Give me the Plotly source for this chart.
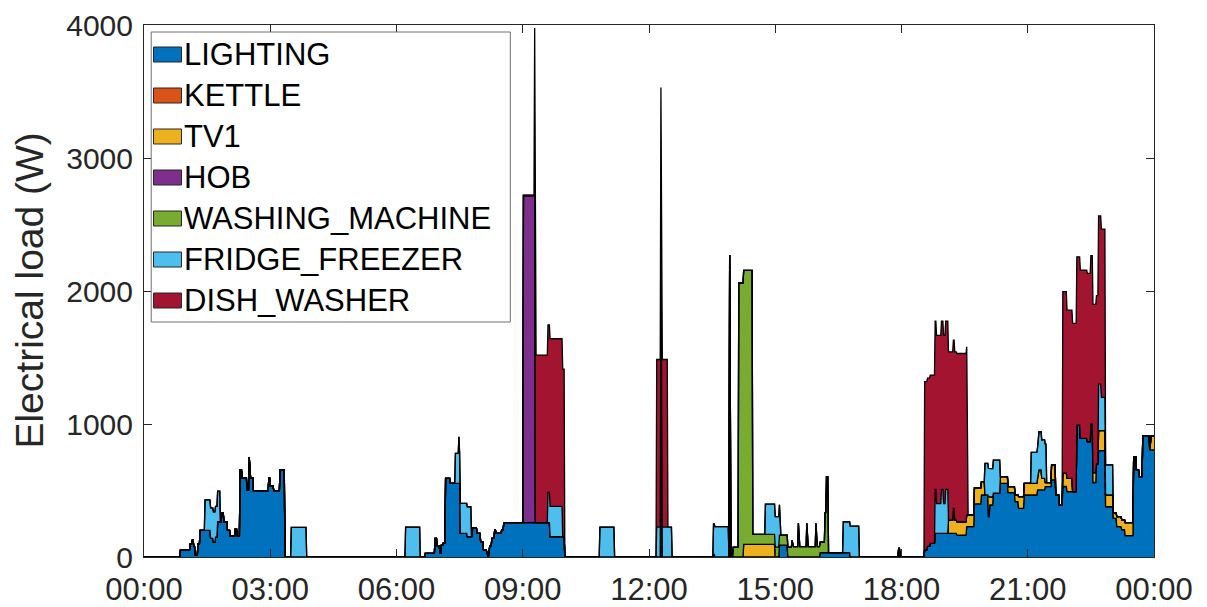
import plotly.graph_objects as go

MINUTES_PER_DAY = 1440

# Appliances in stacking order (bottom to top) and their fill colours
appliances = ["LIGHTING", "KETTLE", "TV1", "HOB", "WASHING_MACHINE",
              "FRIDGE_FREEZER", "DISH_WASHER"]
colors = ["#0072BD", "#D95319", "#EDB120", "#7E2F8E", "#77AC30",
          "#4DBEEE", "#A2142F"]

# Load change points as (minute of day, watts); each level holds until the next change
lighting_steps = [
    (0, 0), (52, 53), (66, 100), (69, 128), (71, 80), (73, 15), (77, 100), (80, 200),
    (95, 140), (99, 110), (102, 150), (105, 265), (111, 330), (114, 265), (119, 200),
    (123, 158), (130, 210), (133, 158), (137, 654), (140, 596), (147, 503), (150, 752),
    (151, 596), (156, 499), (178, 596), (180, 535), (185, 499), (194, 654), (201, 0),
    (401, 28), (415, 140), (418, 85), (422, 28), (424, 90), (427, 107), (430, 591),
    (437, 554), (451, 178), (461, 153), (468, 216), (475, 178), (480, 115), (484, 53),
    (489, 25), (491, 0), (492, 85), (496, 140), (500, 203), (502, 178), (510, 203),
    (513, 258), (579, 153), (600, 0),
    (812, 20), (814, 0), (906, 90), (918, 0), (964, 33), (1007, 0), (1076, 65), (1078, 0),
    (1113, 53), (1117, 80), (1121, 103), (1128, 178), (1159, 165), (1173, 228),
    (1184, 400), (1194, 466), (1204, 303), (1206, 391), (1211, 481), (1221, 554),
    (1232, 484), (1242, 416), (1247, 366), (1255, 466), (1274, 504), (1285, 529),
    (1294, 579), (1300, 466), (1305, 391), (1310, 530), (1316, 491), (1330, 992),
    (1335, 892), (1345, 867), (1350, 1000), (1353, 560), (1358, 700), (1361, 800),
    (1371, 378), (1382, 291), (1387, 228), (1394, 205), (1399, 160), (1411, 754),
    (1415, 654), (1419, 604), (1424, 912), (1434, 805),
]
kettle_steps = [(0, 0), (737, 2045), (738, 0), (835, 2270), (836, 0)]
tv1_steps = [
    (0, 0), (855, 95), (900, 0),
    (1147, 100), (1154, 188), (1156, 100), (1173, 88), (1184, 120), (1194, 100),
    (1199, 0), (1204, 150), (1206, 60), (1211, 0), (1221, 50), (1232, 45), (1242, 50),
    (1247, 88), (1275, 150), (1280, 87), (1285, 30), (1294, 113), (1300, 0),
    (1310, 100), (1324, 0), (1353, 75), (1358, 0), (1361, 150), (1371, 88),
    (1382, 40), (1387, 75), (1399, 98), (1411, 0), (1435, 105),
]
hob_steps = [(0, 0), (541, 2460), (558, 0)]
washing_machine_steps = [
    (0, 0), (840, 75), (848, 2060), (868, 75), (924, 125), (925, 78), (933, 253),
    (934, 78), (945, 253), (946, 78), (958, 253), (959, 78), (971, 300), (973, 571),
    (976, 0),
]
fridge_freezer_steps = [
    (0, 0), (87, 230), (109, 0), (210, 223), (232, 0), (373, 225), (394, 0),
    (444, 225), (449, 350), (450, 225), (467, 0), (576, 228), (597, 0),
    (650, 225), (671, 0), (731, 225), (753, 0), (812, 228), (834, 0),
    (886, 228), (907, 0), (997, 232), (1020, 0),
    (1128, 330), (1130, 224), (1137, 330), (1140, 224), (1143, 330), (1147, 0),
    (1199, 238), (1204, 214), (1211, 248), (1221, 0),
    (1265, 233), (1275, 289), (1287, 0),
    (1361, 350), (1365, 250), (1371, 226), (1382, 0),
]
dish_washer_steps = [
    (0, 0), (557, 1260), (600, 0), (731, 1260), (747, 0),
    (1113, 1265), (1174, 0), (1310, 1365), (1316, 1265), (1371, 0),
]

x_tick_minutes = [0, 180, 360, 540, 720, 900, 1080, 1260, 1440]
x_tick_labels = ["00:00", "03:00", "06:00", "09:00", "12:00", "15:00",
                 "18:00", "21:00", "00:00"]
y_tick_values = [0, 1000, 2000, 3000, 4000]

step_lists = [lighting_steps, kettle_steps, tv1_steps, hob_steps,
              washing_machine_steps, fridge_freezer_steps, dish_washer_steps]


def per_minute(steps):
    """Expand change points into one reading per minute (level held between changes)."""
    values = [0.0] * (MINUTES_PER_DAY + 1)
    for i, (start, level) in enumerate(steps):
        end = steps[i + 1][0] if i + 1 < len(steps) else MINUTES_PER_DAY + 1
        for m in range(start, end):
            values[m] = level
    return values


minutes = list(range(MINUTES_PER_DAY + 1))
font_family = "Liberation Sans, Arial, Helvetica, sans-serif"

# Figure / plot-area geometry in pixels
FIG_W, FIG_H = 1207, 607
PLOT_L, PLOT_R, PLOT_T, PLOT_B = 143.5, 1154, 25, 557


def px_to_paper(px, py):
    return ((px - PLOT_L) / (PLOT_R - PLOT_L), (PLOT_B - py) / (PLOT_B - PLOT_T))


fig = go.Figure()
for name, color, steps in zip(appliances, colors, step_lists):
    fig.add_trace(go.Scatter(
        x=minutes, y=per_minute(steps), name=name,
        mode="lines", stackgroup="load", showlegend=False,
        line=dict(color="black", width=1.3, shape="linear"),
        fillcolor=color,
    ))

# Boxed legend in the upper-left corner: filled swatches with appliance names
shapes = []
annotations = []
bx0, by0 = px_to_paper(150.7, 322)
bx1, by1 = px_to_paper(510, 32)
shapes.append(dict(type="rect", xref="paper", yref="paper",
                   x0=bx0, y0=by0, x1=bx1, y1=by1,
                   line=dict(color="#6e6e6e", width=1), fillcolor="white",
                   layer="above"))
row_height = 41
first_row_y = 54.5
for i, (name, color) in enumerate(zip(appliances, colors)):
    cy = first_row_y + i * row_height
    sx0, sy0 = px_to_paper(153, cy + 7.5)
    sx1, sy1 = px_to_paper(181, cy - 7.5)
    shapes.append(dict(type="rect", xref="paper", yref="paper",
                       x0=sx0, y0=sy0, x1=sx1, y1=sy1,
                       line=dict(color="#262626", width=1), fillcolor=color,
                       layer="above"))
    tx, ty = px_to_paper(182, cy)
    annotations.append(dict(
        text=name, xref="paper", yref="paper", x=tx, y=ty,
        xanchor="left", yanchor="middle", showarrow=False,
        font=dict(family=font_family, size=31, color="black"),
    ))

annotations.append(dict(
    text="Electrical load (W)", xref="paper", yref="paper",
    x=px_to_paper(28, 0)[0], y=px_to_paper(0, 291)[1],
    xanchor="center", yanchor="middle", textangle=-90, showarrow=False,
    font=dict(family=font_family, size=39, color="#262626"),
))

axis_common = dict(
    showline=True, linecolor="#262626", linewidth=1, mirror="ticks",
    ticks="inside", ticklen=8, tickcolor="#262626", tickwidth=1,
    showgrid=False, zeroline=False, automargin=False,
)

fig.update_layout(
    width=FIG_W, height=FIG_H,
    margin=dict(l=PLOT_L, r=FIG_W - PLOT_R, t=PLOT_T, b=FIG_H - PLOT_B),
    paper_bgcolor="white", plot_bgcolor="white",
    font=dict(family=font_family, color="#262626"),
    showlegend=False,
    xaxis=dict(range=[0, MINUTES_PER_DAY], tickvals=x_tick_minutes,
               ticktext=x_tick_labels, ticklabelstandoff=5,
               tickfont=dict(family=font_family, size=31, color="#262626"),
               **axis_common),
    yaxis=dict(range=[0, 4000], tickvals=y_tick_values, ticklabelstandoff=4,
               tickfont=dict(family=font_family, size=30, color="#262626"),
               **axis_common),
    shapes=shapes,
    annotations=annotations,
)

fig.write_html("out.html")
